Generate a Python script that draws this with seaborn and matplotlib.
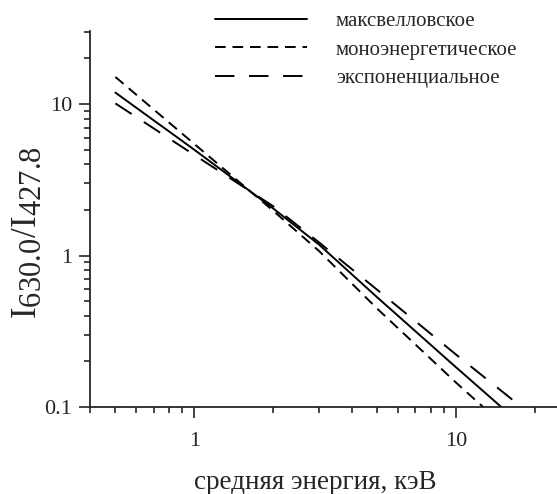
import matplotlib
matplotlib.use("Agg")
import matplotlib.pyplot as plt
import matplotlib._mathtext as mt
import seaborn as sns
from matplotlib.ticker import LogLocator, NullFormatter, FixedLocator, FixedFormatter

# mean energy, keV and intensity ratio 630.0/427.8
energy_maxwell = [0.5, 1.0, 2.0, 3.0, 5.0, 10.0, 14.9]
ratio_maxwell = [11.9, 5.0, 2.05, 1.18, 0.53, 0.183, 0.1]

energy_mono = [0.5, 1.0, 2.0, 3.0, 5.0, 10.0, 12.7]
ratio_mono = [15.1, 5.46, 1.98, 1.07, 0.446, 0.145, 0.1]

energy_exp = [0.5, 1.0, 2.0, 3.0, 5.0, 10.0, 17.8]
ratio_exp = [10.1, 4.62, 2.12, 1.22, 0.594, 0.222, 0.1]

labels = ["максвелловское", "моноэнергетическое", "экспоненциальное"]

sns.set_style("ticks")
plt.rcParams['font.family'] = ['Liberation Serif', 'DejaVu Serif']
plt.rcParams['mathtext.fontset'] = 'custom'
plt.rcParams['mathtext.rm'] = 'Liberation Serif'
plt.rcParams['mathtext.it'] = 'Liberation Serif:italic'
# subscripts in the original are nearly full size
mt.SHRINK_FACTOR = 0.88

fig = plt.figure(figsize=(5.57, 4.94), dpi=100)
ax = fig.add_axes([0.1616, 0.176, 0.8384, 0.761])

lw = 1.4
sns.lineplot(x=energy_maxwell, y=ratio_maxwell, ax=ax, color='black', lw=lw, label=labels[0])
sns.lineplot(x=energy_mono, y=ratio_mono, ax=ax, color='black', lw=lw, label=labels[1])
sns.lineplot(x=energy_exp, y=ratio_exp, ax=ax, color='black', lw=lw, label=labels[2])
ax.lines[1].set_dashes((5.5, 3.5))
ax.lines[2].set_dashes((10, 7.5))

ax.set_xscale('log')
ax.set_yscale('log')
ax.set_xlim(0.4, 24.3)
ax.set_ylim(0.1, 30.3)

ax.xaxis.set_major_locator(FixedLocator([1, 10]))
ax.xaxis.set_major_formatter(FixedFormatter(['1', '10']))
ax.xaxis.set_minor_locator(LogLocator(base=10, subs=range(2, 10)))
ax.xaxis.set_minor_formatter(NullFormatter())
ax.yaxis.set_major_locator(FixedLocator([0.1, 1, 10]))
ax.yaxis.set_major_formatter(FixedFormatter(['0.1', '1', '10']))
ax.yaxis.set_minor_locator(LogLocator(base=10, subs=range(2, 10)))
ax.yaxis.set_minor_formatter(NullFormatter())

ax.tick_params(which='major', direction='out', length=8, width=1.2, labelsize=16, pad=5)
ax.tick_params(which='minor', direction='out', length=4.3, width=1.2)
ax.tick_params(axis='x', which='major', pad=10)
for s in ['left', 'bottom']:
    ax.spines[s].set_linewidth(1.3)
sns.despine(ax=ax)

ax.set_xlabel('средняя энергия, кэВ', fontsize=19.5)
ax.xaxis.set_label_coords(0.482, -0.168)
ax.set_ylabel(r'$\mathrm{I}_{630.0}/\mathrm{I}_{427.8}$', fontsize=25)
ax.yaxis.set_label_coords(-0.097, 0.463)

handles, lbls = ax.get_legend_handles_labels()
ax.get_legend().remove()
fig.legend(handles, lbls, loc='upper left', bbox_to_anchor=(0.386, 0.976),
           frameon=False, fontsize=15, handlelength=4.4, handletextpad=1.4,
           labelspacing=0.42, borderpad=0, borderaxespad=0)

fig.savefig('out.png', dpi=100)
